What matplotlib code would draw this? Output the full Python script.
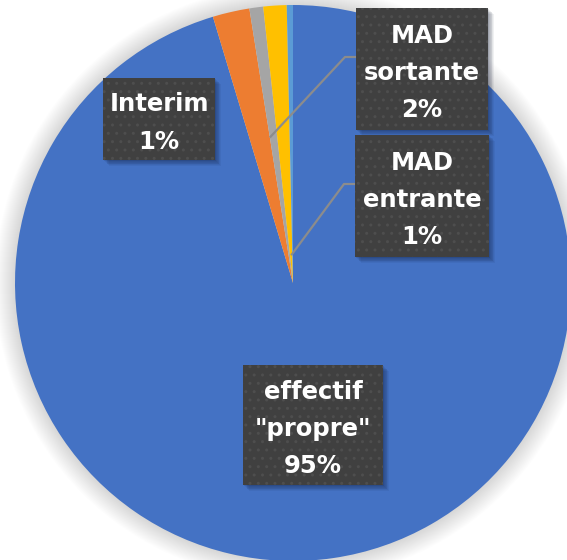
import matplotlib
matplotlib.use("Agg")
import matplotlib.pyplot as plt
from matplotlib.patches import Rectangle, Circle
import numpy as np

# ---- data ----
categories = ['effectif "propre"', 'MAD sortante', 'Interim', 'MAD entrante', 'Autre']
values = [95.35, 2.14, 0.80, 1.35, 0.36]
colors = ['#4472C4', '#ED7D31', '#A5A5A5', '#FFC000', '#5B9BD5']
label_texts = ['effectif\n"propre"\n95%', 'MAD\nsortante\n2%', 'Interim\n1%', 'MAD\nentrante\n1%', None]

W, H = 567, 560
fig = plt.figure(figsize=(W / 100, H / 100), dpi=100)
fig.patch.set_facecolor('white')
ax = fig.add_axes([0, 0, 1, 1])

# pie geometry in pixels
CX, CY, R = 293, 283, 278


def P(x, y):
    return ((x - CX) / R, (CY - y) / R)


# soft glow around the pie
NG = 20
for i in range(NG):
    rr = 1 + (NG - i) / R
    ax.add_patch(Circle((0, 0), rr, facecolor='#000000', alpha=0.0075, edgecolor='none', zorder=0))

wedges, _ = ax.pie(values, colors=colors, startangle=90, counterclock=False,
                   radius=1, center=(0, 0), wedgeprops=dict(linewidth=0))
for w in wedges:
    w.set_zorder(1)

x0, _ = P(0, 0)
x1, _ = P(W, 0)
ax.set_xlim(x0, x1)
ax.set_ylim((CY - H) / R, CY / R)
ax.set_aspect('auto')
ax.axis('off')


def wedge_point(idx, frac, r):
    w = wedges[idx]
    t = np.deg2rad(w.theta1 + frac * (w.theta2 - w.theta1))
    return (r * np.cos(t), r * np.sin(t))


def box(xl, yt, xr, yb, text):
    (ax0, ay0) = P(xl, yb)
    (ax1, ay1) = P(xr, yt)
    wd, ht = ax1 - ax0, ay1 - ay0
    # soft shadow (down-right)
    for k in range(1, 9):
        dx, dy = (k * 0.7) / R, -(k * 0.7) / R
        ax.add_patch(Rectangle((ax0 + dx, ay0 + dy), wd, ht, facecolor='#0c1430',
                               alpha=0.06, edgecolor='none', zorder=3))
    ax.add_patch(Rectangle((ax0, ay0), wd, ht, facecolor='#404040', edgecolor='none', zorder=4))
    ax.add_patch(Rectangle((ax0, ay0), wd, ht, facecolor='none', edgecolor='#4e4e4e',
                           hatch='..', linewidth=0, zorder=5))
    ax.text(ax0 + wd / 2, ay0 + ht / 2 - 4 / R, text, ha='center', va='center', color='white',
            fontsize=17.5, fontweight='bold', family='DejaVu Sans', linespacing=1.7,
            multialignment='center', zorder=6)


# leader lines
lc = '#8c8c8c'
ex, ey = wedge_point(1, 0.0, 0.53)
kx, ky = P(345, 57)
sx, sy = P(356, 57)
ax.plot([ex, kx, sx], [ey, ky, sy], color=lc, lw=1.6, zorder=2, solid_capstyle='butt')
ex, ey = wedge_point(3, 0.5, 0.10)
kx, ky = P(344, 184)
sx, sy = P(355, 184)
ax.plot([ex, kx, sx], [ey, ky, sy], color=lc, lw=1.6, zorder=2, solid_capstyle='butt')

box(103, 78, 215, 160, label_texts[2])
box(356, 8, 488, 130, label_texts[1])
box(355, 135, 489, 257, label_texts[3])
box(243, 365, 383, 485, label_texts[0])

fig.savefig('out.png', dpi=100, facecolor='white')
